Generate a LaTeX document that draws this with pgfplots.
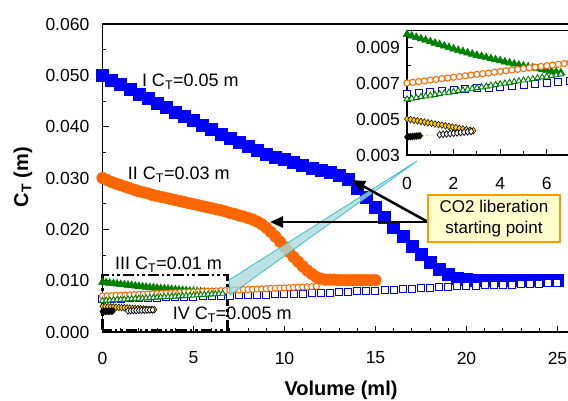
\documentclass[border=0pt]{standalone}
\usepackage{pgfplots}
\pgfplotsset{compat=1.18}
\usepackage{pgfplotstable}
\usepackage{fontspec}
\setmainfont{Liberation Sans}
\usetikzlibrary{arrows.meta}
\definecolor{cblue}{RGB}{0,0,255}
\definecolor{corange}{RGB}{255,102,0}
\definecolor{cgreen}{RGB}{0,128,0}
\definecolor{cgold}{RGB}{255,204,0}
\definecolor{cteal}{RGB}{64,192,200}
\definecolor{ctealfill}{RGB}{170,218,220}
\definecolor{cboxfill}{RGB}{255,255,204}
\definecolor{cboxdraw}{RGB}{255,153,0}

% I  C_T = 0.05 m, filled
\pgfplotstableread{
x y
0 0.0500
0.5 0.0491
1 0.0482
1.5 0.0473
2 0.0464
2.5 0.0455
3 0.0446
3.5 0.0437
4 0.0429
4.5 0.0420
5 0.0412
5.5 0.0403
6 0.0395
6.5 0.0386
7 0.0377
7.5 0.0369
8 0.0361
8.5 0.0354
9 0.0347
9.5 0.0341
10 0.0336
10.5 0.0330
11 0.0325
11.5 0.0320
12 0.0315
12.5 0.0311
13 0.0306
13.5 0.0297
14 0.0280
14.5 0.0262
15 0.0243
15.5 0.0224
16 0.0204
16.5 0.0186
17 0.0168
17.5 0.0151
18 0.0136
18.5 0.0123
19 0.0112
19.5 0.0105
20 0.0102
20.5 0.0101
21 0.0101
21.5 0.0101
22 0.0101
22.5 0.0101
23 0.0101
23.5 0.0101
24 0.0101
24.5 0.0101
25 0.0101
}\tIf
% I open
\pgfplotstableread{
x y
0 0.00640
0.5 0.00645
1 0.00650
1.5 0.00655
2 0.00660
2.5 0.00665
3 0.00670
3.5 0.00675
4 0.00680
4.5 0.00685
5 0.00690
5.5 0.00695
6 0.00700
6.5 0.00705
7 0.00710
7.5 0.00715
8 0.00720
8.5 0.00725
9 0.00730
9.5 0.00735
10 0.00740
10.5 0.00745
11 0.00750
11.5 0.00755
12 0.00760
12.5 0.00768
13 0.00776
13.5 0.00784
14 0.00792
14.5 0.00800
15 0.00808
15.5 0.00816
16 0.00824
16.5 0.00832
17 0.00840
17.5 0.00848
18 0.00856
18.5 0.00867
19 0.00878
19.5 0.00889
20 0.00900
20.5 0.00905
21 0.00910
21.5 0.00915
22 0.00920
22.5 0.00925
23 0.00930
23.5 0.00935
24 0.00940
24.5 0.00945
25 0.00950
}\tIo
% II C_T = 0.03 m, filled
\pgfplotstableread{
x y
0 0.0300
0.25 0.0296
0.5 0.0292
0.75 0.0289
1 0.0286
1.25 0.0283
1.5 0.0280
1.75 0.0277
2 0.0274
2.25 0.0272
2.5 0.0270
2.75 0.0267
3 0.0265
3.25 0.0263
3.5 0.0261
3.75 0.0259
4 0.0257
4.25 0.0255
4.5 0.0253
4.75 0.0251
5 0.0249
5.25 0.0247
5.5 0.0245
5.75 0.0243
6 0.0241
6.25 0.0239
6.5 0.0237
6.75 0.0235
7 0.0232
7.25 0.0230
7.5 0.0227
7.75 0.0225
8 0.0222
8.25 0.0219
8.5 0.0215
8.75 0.0210
9 0.0203
9.25 0.0195
9.5 0.0186
9.75 0.0176
10 0.0166
10.25 0.0156
10.5 0.0146
10.75 0.0137
11 0.0128
11.25 0.0120
11.5 0.0113
11.75 0.0107
12 0.0104
12.25 0.0102
12.5 0.0102
12.75 0.0102
13 0.0101
13.25 0.0101
13.5 0.0101
13.75 0.0101
14 0.0101
14.25 0.0101
14.5 0.0101
14.75 0.0101
15 0.0101
}\tIIf
% II open
\pgfplotstableread{
x y
0 0.00700
0.25 0.00704
0.5 0.00708
0.75 0.00712
1 0.00716
1.25 0.00720
1.5 0.00724
1.75 0.00728
2 0.00732
2.25 0.00736
2.5 0.00740
2.75 0.00744
3 0.00748
3.25 0.00752
3.5 0.00756
3.75 0.00760
4 0.00764
4.25 0.00768
4.5 0.00772
4.75 0.00776
5 0.00780
5.25 0.00784
5.5 0.00788
5.75 0.00792
6 0.00796
6.25 0.00800
6.5 0.00804
6.75 0.00808
7 0.00812
7.25 0.00816
7.5 0.00820
7.75 0.00824
8 0.00828
8.25 0.00832
8.5 0.00836
8.75 0.00840
9 0.00844
9.25 0.00848
9.5 0.00852
9.75 0.00856
10 0.00860
10.25 0.00864
10.5 0.00868
10.75 0.00872
11 0.00876
11.25 0.00880
11.5 0.00884
11.75 0.00888
}\tIIo
% III C_T = 0.01 m, filled
\pgfplotstableread{
x y
0 0.00970
0.2 0.00962
0.4 0.00954
0.6 0.00946
0.8 0.00938
1.0 0.00930
1.2 0.00922
1.4 0.00914
1.6 0.00906
1.8 0.00898
2.0 0.00890
2.2 0.00882
2.4 0.00875
2.6 0.00868
2.8 0.00861
3.0 0.00854
3.2 0.00848
3.4 0.00842
3.6 0.00836
3.8 0.00830
4.0 0.00824
4.2 0.00818
4.4 0.00812
4.6 0.00806
4.8 0.00800
5.0 0.00795
5.2 0.00790
5.4 0.00785
5.6 0.00780
5.8 0.00775
6.0 0.00770
6.2 0.00766
6.4 0.00762
6.6 0.00758
}\tIIIf
% III open
\pgfplotstableread{
x y
0 0.00610
0.2 0.00614
0.4 0.00618
0.6 0.00623
0.8 0.00627
1.0 0.00631
1.2 0.00635
1.4 0.00639
1.6 0.00644
1.8 0.00648
2.0 0.00652
2.2 0.00656
2.4 0.00660
2.6 0.00665
2.8 0.00669
3.0 0.00673
3.2 0.00677
3.4 0.00681
3.6 0.00686
3.8 0.00690
4.0 0.00694
4.2 0.00698
4.4 0.00702
4.6 0.00707
4.8 0.00711
5.0 0.00715
5.2 0.00719
5.4 0.00723
5.6 0.00728
5.8 0.00732
6.0 0.00736
6.2 0.00740
6.4 0.00744
6.6 0.00749
}\tIIIo
% IV C_T = 0.005 m, filled
\pgfplotstableread{
x y
0 0.00500
0.15 0.00497
0.3 0.00493
0.45 0.00490
0.6 0.00486
0.75 0.00483
0.9 0.00479
1.05 0.00476
1.2 0.00472
1.35 0.00469
1.5 0.00466
1.65 0.00462
1.8 0.00459
1.95 0.00455
2.1 0.00452
2.25 0.00448
2.4 0.00445
2.55 0.00441
2.7 0.00438
2.85 0.00435
}\tIVf
% IV open (first part dense)
\pgfplotstableread{
x y
0 0.00400
0.08 0.00401
0.16 0.00402
0.24 0.00403
0.32 0.00404
0.4 0.00405
0.48 0.00406
0.56 0.00407
}\tIVa
\pgfplotstableread{
x y
1.4 0.00413
1.55 0.00415
1.7 0.00417
1.85 0.00419
2.0 0.00421
2.15 0.00423
2.3 0.00425
2.45 0.00427
2.6 0.00429
2.75 0.00431
}\tIVb

\newcommand{\plotall}{%
  \addplot[only marks, mark=square*, mark size=6bp, color=cblue] table {\tIf};
  \addplot[only marks, mark=*, mark size=5.8bp, color=corange] table {\tIIf};
  \addplot[only marks, mark=triangle*, mark size=4.6bp, color=cgreen] table {\tIIIf};
  \addplot[only marks, mark=square*, mark size=3.5bp, draw=cblue, fill=white, line width=1bp] table {\tIo};
  \addplot[only marks, mark=*, mark size=3.1bp, draw=corange, fill=white, line width=1bp] table {\tIIo};
  \addplot[only marks, mark=triangle*, mark size=3.4bp, draw=cgreen, fill=white, line width=0.9bp] table {\tIIIo};
  \addplot[cgold, densely dashed, line width=0.8bp] coordinates {(0.6,0.00408) (1.4,0.00413)};
  \addplot[only marks, mark=diamond*, mark size=3.4bp, draw=black, fill=cgold, line width=0.5bp] table {\tIVf};
  \addplot[only marks, mark=diamond*, mark size=3.4bp, draw=black, fill=black, line width=0.5bp] table {\tIVa};
  \addplot[only marks, mark=diamond*, mark size=3.4bp, draw=black, fill=white, line width=0.7bp] table {\tIVb};
}

\begin{document}
\begin{tikzpicture}[x=1bp,y=1bp]
\useasboundingbox (-102.5bp,-69bp) rectangle (465.5bp,332bp);
\begin{axis}[
  at={(0bp,0bp)}, anchor=south west,
  scale only axis, width=465.9bp, height=308bp,
  xmin=0, xmax=25.6, ymin=0, ymax=0.06,
  clip=false,
  scaled y ticks=false, scaled x ticks=false,
  xtick={0,5,10,15,20,25}, xticklabels={0,5,10,15,20,25},
  ytick={0,0.01,0.02,0.03,0.04,0.05,0.06},
  yticklabels={0.000,0.010,0.020,0.030,0.040,0.050,0.060},
  minor x tick num=4, minor y tick num=1,
  tick align=inside, xtick pos=bottom, ytick pos=left,
  major tick length=6bp, minor tick length=4bp,
  tick style={black, line width=1bp},
  axis line style={line width=1.3bp},
  ticklabel style={font=\fontsize{17.5bp}{20bp}\selectfont, inner sep=0pt},
  xticklabel style={anchor=center, yshift=-26bp},
  yticklabel style={anchor=east, xshift=-13bp},
]
  \plotall
  \draw[black, line width=2.8bp, dash pattern=on 11bp off 3bp on 2.5bp off 3bp on 2.5bp off 3bp]
    (axis cs:0,0.0004) rectangle (axis cs:6.85,0.0111);
  \begin{scope}[font=\fontsize{18bp}{20bp}\selectfont, inner sep=0pt]
  \node[anchor=west] at (axis cs:2.16,0.0487) {I C\textsubscript{T}=0.05 m};
  \node[anchor=west] at (axis cs:1.39,0.0306) {II C\textsubscript{T}=0.03 m};
  \node[anchor=west] at (axis cs:0.68,0.0131) {III C\textsubscript{T}=0.01 m};
  \node[anchor=west] at (axis cs:3.85,0.0033) {IV C\textsubscript{T}=0.005 m};
  \end{scope}
\end{axis}

% callout wedge
\fill[ctealfill, fill opacity=0.8, draw=cteal, line width=0.8bp]
  (126.5bp,52bp) -- (314.5bp,171bp) -- (127.5bp,37bp) -- cycle;

% inset
\begin{axis}[
  at={(304.5bp,177bp)}, anchor=south west,
  scale only axis, width=170.1bp, height=124.2bp,
  xmin=0, xmax=7.3, ymin=0.003, ymax=0.0099,
  clip=false,
  scaled y ticks=false, scaled x ticks=false,
  xtick={0,2,4,6}, xticklabels={0,2,4,6},
  ytick={0.003,0.005,0.007,0.009},
  yticklabels={0.003,0.005,0.007,0.009},
  minor x tick num=1, minor y tick num=1,
  tick align=inside, xtick pos=bottom, ytick pos=left,
  major tick length=6bp, minor tick length=4bp,
  tick style={black, line width=1bp},
  axis line style={line width=1.3bp},
  ticklabel style={font=\fontsize{17.5bp}{20bp}\selectfont, inner sep=0pt},
  xticklabel style={anchor=center, yshift=-28bp},
  yticklabel style={anchor=east, xshift=-7bp},
]
  \plotall
\end{axis}

% arrows
\draw[line width=2.5bp, -{Triangle[length=13bp,width=11bp]}] (325.5bp,110bp) -- (249.5bp,152bp);
\draw[line width=2.5bp, -{Triangle[length=13bp,width=11bp]}] (325.5bp,110bp) -- (167.5bp,110bp);
\node[draw=cboxdraw, fill=cboxfill, line width=1.2bp, minimum width=132bp, minimum height=47bp,
      align=center, inner sep=2bp, font=\fontsize{17bp}{20.5bp}\selectfont]
  at (391.5bp,113.5bp) {CO2 liberation\\starting point};

% axis titles
\node[font=\bfseries\fontsize{20bp}{22bp}\selectfont] at (238.5bp,-58bp) {Volume (ml)};
\node[font=\bfseries\fontsize{20bp}{22bp}\selectfont, rotate=90] at (-79.5bp,155bp) {C\textsubscript{T} (m)};
\end{tikzpicture}
\end{document}
